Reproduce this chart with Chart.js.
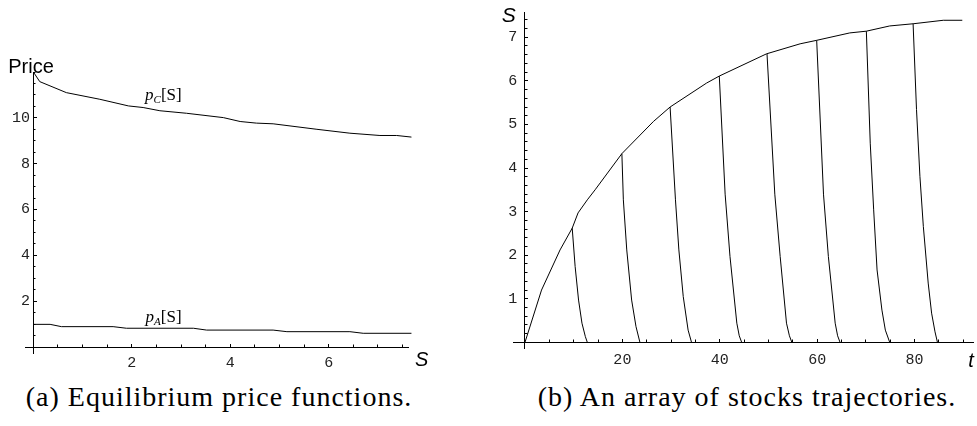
<!DOCTYPE html>
<html>
<head>
<meta charset="utf-8">
<script src="https://cdn.jsdelivr.net/npm/chart.js@4.4.0/dist/chart.umd.min.js"></script>
<style>
  body { margin: 0; background: #fff; width: 977px; height: 426px; overflow: hidden; position: relative; }
  .panel { position: absolute; top: 0; height: 380px; }
  #left { left: 0; width: 480px; }
  #right { left: 480px; width: 497px; }
  .caption {
    position: absolute; top: 381px; white-space: nowrap; color: #000;
    font-family: "Liberation Serif", serif; font-size: 28px; letter-spacing: 1px;
    transform: translateX(-50%);
  }
</style>
</head>
<body>
<div class="panel" id="left"><canvas id="priceChart"></canvas></div>
<div class="panel" id="right"><canvas id="stockChart"></canvas></div>
<div class="caption" style="left:219px">(a) Equilibrium price functions.</div>
<div class="caption" style="left:747px">(b) An array of stocks trajectories.</div>
<script>
// panel (a): equilibrium prices against the stock S
const pcStock = [0, 0.13, 0.67, 1.35, 1.93, 2.23, 2.57, 3.11, 3.86, 4.2, 4.53, 4.87, 5.76, 6.43, 7.04, 7.38, 7.68];
const pcPrice = [12.0, 11.58, 11.1, 10.81, 10.52, 10.45, 10.31, 10.2, 10.01, 9.84, 9.77, 9.74, 9.5, 9.33, 9.23, 9.23, 9.16];
const paStock = [0, 0.34, 0.57, 1.62, 1.89, 3.25, 3.52, 4.87, 5.15, 6.43, 6.7, 7.68];
const paPrice = [0.99, 0.99, 0.89, 0.89, 0.82, 0.82, 0.74, 0.74, 0.67, 0.67, 0.6, 0.6];
const priceTicksS = [2, 4, 6];
const priceTicksP = [2, 4, 6, 8, 10];

// panel (b): envelope of the stock and the trajectories leaving it
const envTime = [0, 3.4, 7.2, 9.7, 10.9, 12.8, 14.4, 19.9, 26.4, 29.8, 37.3, 39.9, 49.6, 56.5, 59.9, 66.7, 70.1, 74.9, 79.7, 85.9, 89.8];
const envStock = [0, 1.2, 2.12, 2.62, 2.97, 3.27, 3.5, 4.33, 5.07, 5.4, 5.95, 6.11, 6.62, 6.85, 6.93, 7.1, 7.14, 7.26, 7.31, 7.39, 7.39];
const trajTime = [
  [9.7, 10.3, 11.0, 11.7, 12.4, 12.8],
  [19.9, 20.2, 20.9, 21.9, 22.8, 23.6],
  [29.8, 30.9, 31.6, 32.5, 33.5, 34.2],
  [39.9, 41.1, 42.1, 43.5, 44.0, 44.5],
  [49.7, 51.3, 52.4, 53.7, 54.3, 54.8],
  [59.9, 61.3, 62.3, 63.7, 64.2, 64.7],
  [70.1, 70.9, 71.6, 72.3, 73.3, 74.0, 74.9],
  [79.7, 80.4, 81.1, 81.8, 82.8, 83.5, 84.2, 84.7]
];
const trajStock = [
  [2.62, 1.74, 0.97, 0.44, 0.13, 0],
  [4.33, 3.27, 2.12, 0.97, 0.36, 0],
  [5.4, 3.27, 2.12, 1.05, 0.28, 0],
  [6.11, 3.4, 1.97, 0.44, 0.15, 0],
  [6.62, 3.4, 1.97, 0.44, 0.15, 0],
  [6.93, 3.4, 1.97, 0.44, 0.15, 0],
  [7.14, 4.57, 3.04, 1.66, 0.74, 0.28, 0],
  [7.31, 5.34, 3.81, 2.66, 1.36, 0.67, 0.24, 0]
];
const stockTicksT = [20, 40, 60, 80];
const stockTicksS = [1, 2, 3, 4, 5, 6, 7];

const serif = '"Liberation Serif", serif';
const sans = '"Liberation Sans", Arial, sans-serif';

function line(xs, ys) {
  return {
    data: xs.map((x, i) => ({x: x, y: ys[i]})),
    borderColor: '#000', borderWidth: 1, pointRadius: 0, tension: 0, clip: false
  };
}

// Mathematica style axis: line + major ticks, short minor ticks, labels on their own scale
function axisScales(id, range, cross, majors, minorStep, labelAt, pad) {
  const other = id === 'x' ? 'y' : 'x';
  const common = {type: 'linear', axis: id, min: range[0], max: range[1]};
  const scales = {};
  scales[id] = Object.assign({}, common, {
    position: {[other]: cross},
    border: {display: true, color: '#000', width: 1},
    grid: {drawOnChartArea: false, tickLength: -4, tickColor: '#000', tickWidth: 1},
    ticks: {display: false, autoSkip: false},
    afterBuildTicks: s => { s.ticks = majors.map(v => ({value: v})); }
  });
  scales[id + 'Minor'] = Object.assign({}, common, {
    position: {[other]: cross},
    border: {display: false},
    grid: {drawOnChartArea: false, tickLength: -2.5, tickColor: '#000', tickWidth: 1},
    ticks: {display: false, autoSkip: false, stepSize: minorStep, includeBounds: false}
  });
  scales[id + 'Lab'] = Object.assign({}, common, {
    position: {[other]: labelAt},
    border: {display: false},
    grid: {display: false, drawTicks: false},
    ticks: {autoSkip: false, padding: pad, maxRotation: 0, color: '#222',
            font: {family: '"Liberation Mono", monospace', size: 15}},
    afterBuildTicks: s => { s.ticks = majors.map(v => ({value: v})); }
  });
  return scales;
}

// text placed at data coordinates, made of runs in different fonts
function textMarks(items) {
  return {
    id: 'textMarks',
    afterDraw(chart) {
      const ctx = chart.ctx;
      ctx.save();
      ctx.fillStyle = '#000';
      ctx.textBaseline = 'alphabetic';
      items.forEach(item => {
        let px = chart.scales.x.getPixelForValue(item.at[0]);
        const py = chart.scales.y.getPixelForValue(item.at[1]);
        item.parts.forEach(([text, font, dy]) => {
          ctx.font = font;
          ctx.fillText(text, px, py + (dy || 0));
          px += ctx.measureText(text).width;
        });
      });
      ctx.restore();
    }
  };
}

const baseOptions = {
  responsive: true,
  maintainAspectRatio: false,
  animation: false,
  events: [],
  plugins: {legend: {display: false}, tooltip: {enabled: false}}
};

new Chart(document.getElementById('priceChart'), {
  type: 'line',
  data: {datasets: [line(pcStock, pcPrice), line(paStock, paPrice)]},
  options: Object.assign({}, baseOptions, {
    layout: {padding: {left: 25, right: 72, top: 72, bottom: 27}},
    scales: Object.assign({},
      axisScales('x', [-0.17, 7.61], 0, priceTicksS, 0.5, 0, 7),
      axisScales('y', [-0.26, 12.0], 0, priceTicksP, 0.5, -0.07, 0))
  }),
  plugins: [textMarks([
    {at: [2.27, 10.78], parts: [['p', 'italic 17px ' + serif], ['C', 'italic 11px ' + serif, 3], ['[S]', '17px ' + serif]]},
    {at: [2.28, 1.10], parts: [['p', 'italic 17px ' + serif], ['A', 'italic 11px ' + serif, 3], ['[S]', '17px ' + serif]]},
    {at: [-0.51, 11.95], parts: [['Price', '20px ' + sans]]},
    {at: [7.75, -0.83], parts: [['S', 'italic 20px ' + sans]]}
  ])]
});

const trajSets = trajTime.map((ts, k) => line(ts, trajStock[k]));

new Chart(document.getElementById('stockChart'), {
  type: 'line',
  data: {datasets: [line(envTime, envStock)].concat(trajSets)},
  options: Object.assign({}, baseOptions, {
    layout: {padding: {left: 33, right: 4, top: 12, bottom: 32}},
    scales: Object.assign({},
      axisScales('x', [-2.46, 92], 0, stockTicksT, 5, 0, 9),
      axisScales('y', [-0.13, 7.58], 0, stockTicksS, 0.2, -1.58, 0))
  }),
  plugins: [textMarks([
    {at: [-4.78, 7.34], parts: [['S', 'italic 21px ' + sans]]},
    {at: [91.0, -0.57], parts: [['t', 'italic 20px ' + sans]]}
  ])]
});
</script>
</body>
</html>
